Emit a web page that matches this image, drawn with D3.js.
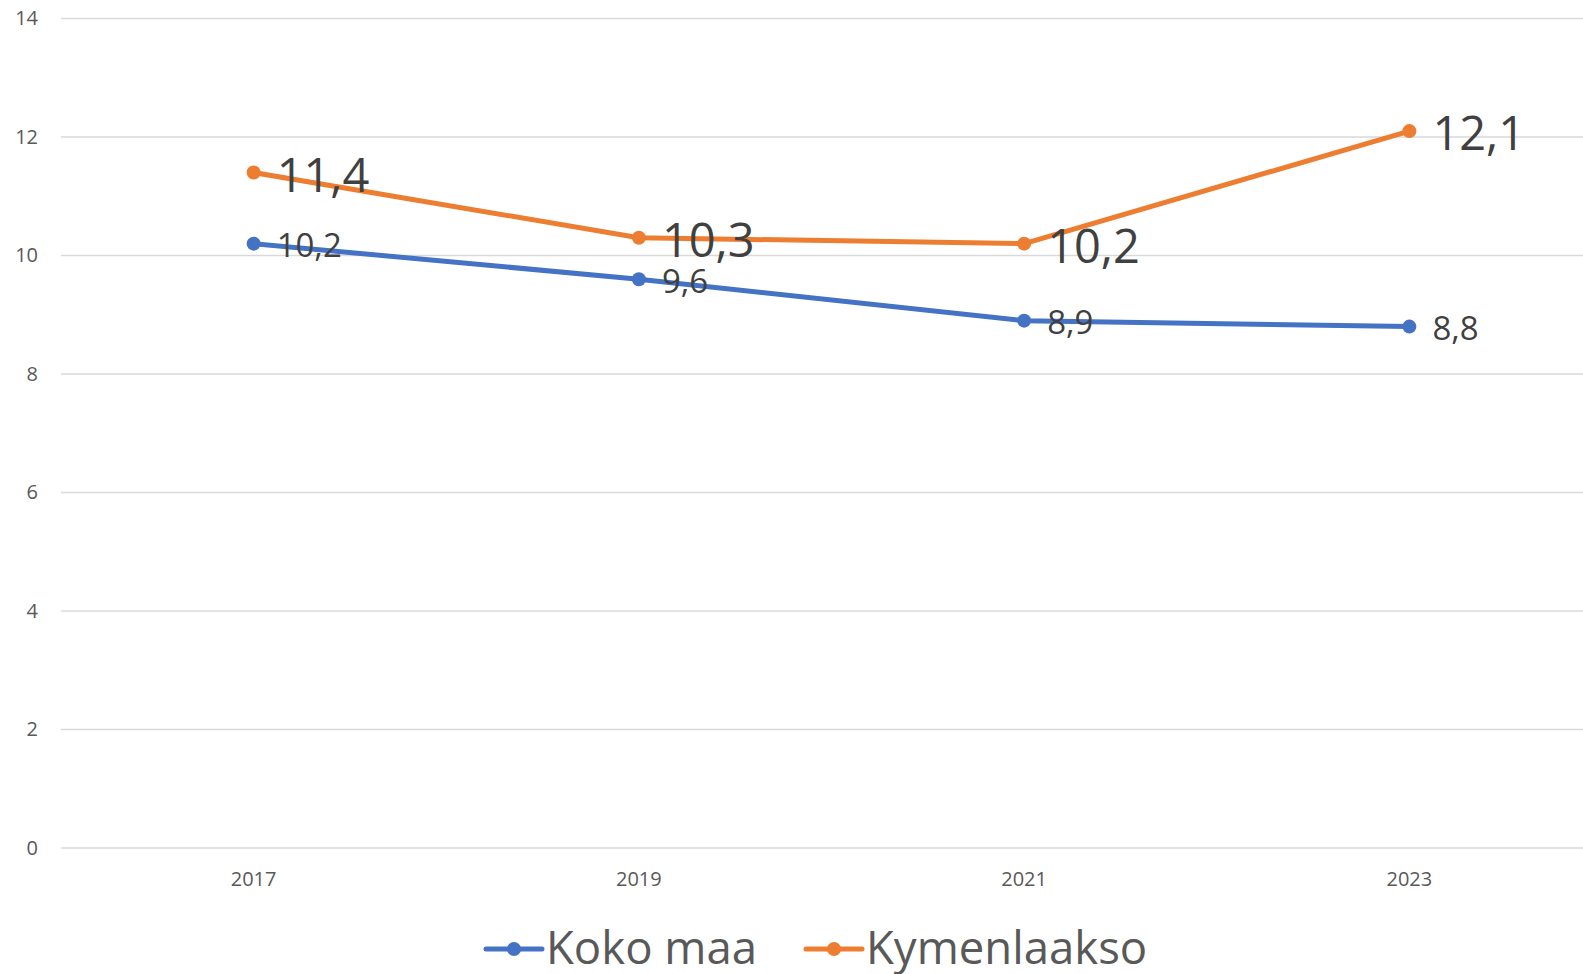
<!DOCTYPE html>
<html>
<head>
<meta charset="utf-8">
<script src="https://cdn.jsdelivr.net/npm/d3@7"></script>
<style>
  html, body { margin: 0; padding: 0; background: #fff; overflow: hidden; }
  svg { display: block; }
  text { font-family: "Open Sans", "Noto Sans", sans-serif; }
</style>
</head>
<body>
<svg id="chart" width="1583" height="974"></svg>
<script>
const years = ["2017", "2019", "2021", "2023"];
const kokoMaa = [10.2, 9.6, 8.9, 8.8];
const kymenlaakso = [11.4, 10.3, 10.2, 12.1];
const yTicks = [0, 2, 4, 6, 8, 10, 12, 14];
const seriesNames = ["Koko maa", "Kymenlaakso"];
const seriesColors = ["#4472C4", "#ED7D31"];
const labelSizes = [33, 47];

const series = [
  { name: seriesNames[0], values: kokoMaa, color: seriesColors[0], labelSize: labelSizes[0] },
  { name: seriesNames[1], values: kymenlaakso, color: seriesColors[1], labelSize: labelSizes[1] }
];

const svg = d3.select("#chart");

const x = d3.scaleBand().domain(years).range([61, 1602]);
const y = d3.scaleLinear().domain([0, 14]).range([848, 18.5]);

// gridlines
svg.append("g")
  .selectAll("line")
  .data(yTicks)
  .join("line")
  .attr("x1", 61).attr("x2", 1583)
  .attr("y1", d => y(d)).attr("y2", d => y(d))
  .attr("stroke", "#D9D9D9").attr("stroke-width", 1.5);

// y axis labels
const yAxis = d3.axisLeft(y).tickValues(yTicks).tickSize(0).tickPadding(0);
const gy = svg.append("g").attr("transform", "translate(38,0)").call(yAxis);
gy.select(".domain").remove();
gy.selectAll("text")
  .attr("fill", "#595959")
  .attr("font-size", 20)
  .attr("font-family", "'Open Sans', sans-serif");

// x axis labels
const xAxis = d3.axisBottom(x).tickSize(0).tickPadding(0);
const gx = svg.append("g").attr("transform", "translate(0,872)").call(xAxis);
gx.select(".domain").remove();
gx.selectAll("text")
  .attr("fill", "#595959")
  .attr("font-size", 20)
  .attr("font-family", "'Open Sans', sans-serif");

const cx = d => x(d) + x.bandwidth() / 2;

const line = d3.line()
  .x((d, i) => cx(years[i]))
  .y(d => y(d));

series.forEach(s => {
  const g = svg.append("g");
  g.append("path")
    .datum(s.values)
    .attr("d", line)
    .attr("fill", "none")
    .attr("stroke", s.color)
    .attr("stroke-width", 5)
    .attr("stroke-linejoin", "round")
    .attr("stroke-linecap", "round");
  g.selectAll("circle")
    .data(s.values)
    .join("circle")
    .attr("cx", (d, i) => cx(years[i]))
    .attr("cy", d => y(d))
    .attr("r", 7)
    .attr("fill", s.color);
});

// data labels (drawn after lines so they sit on top)
series.forEach(s => {
  svg.append("g")
    .selectAll("text")
    .data(s.values)
    .join("text")
    .attr("x", (d, i) => cx(years[i]) + 23)
    .attr("y", d => y(d))
    .attr("dy", "0.41em")
    .attr("font-size", s.labelSize)
    .attr("fill", "#404040")
    .text(d => d.toFixed(1).replace(".", ","));
});

// legend
const legendX = [486, 806];
const legend = svg.append("g");
series.forEach((s, i) => {
  const lg = legend.append("g").attr("transform", `translate(${legendX[i]},949)`);
  lg.append("line")
    .attr("x1", 0).attr("x2", 56)
    .attr("y1", 0).attr("y2", 0)
    .attr("stroke", s.color).attr("stroke-width", 5)
    .attr("stroke-linecap", "round");
  lg.append("circle").attr("cx", 28).attr("cy", 0).attr("r", 7).attr("fill", s.color);
  lg.append("text")
    .attr("x", 60).attr("y", 15)
    .attr("font-size", 45.5)
    .attr("fill", "#595959")
    .text(s.name);
});
</script>
</body>
</html>
